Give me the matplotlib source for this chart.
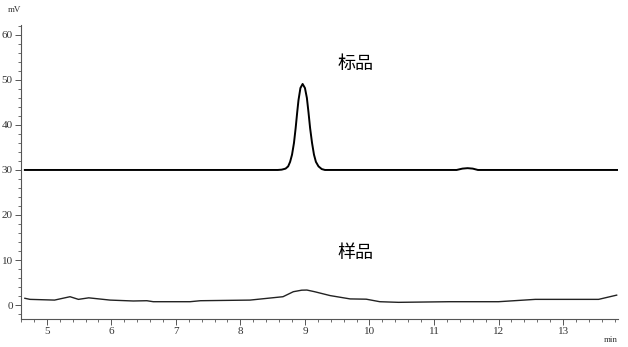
import matplotlib.pyplot as plt
from matplotlib.ticker import MultipleLocator

# 标品 trace (time in min, signal in mV)
std_time = [4.66, 8.58, 8.64, 8.70, 8.74, 8.77, 8.80, 8.83, 8.856, 8.88, 8.90, 8.93,
            8.964, 9.00, 9.03, 9.055, 9.08, 9.11, 9.14, 9.17, 9.21, 9.26, 9.31,
            11.35, 11.44, 11.52, 11.60, 11.68, 13.85]
std_signal = [30.0, 30.0, 30.07, 30.3, 30.8, 31.8, 33.4, 36.0, 39.3, 42.8, 45.5, 48.2,
              49.1, 48.2, 46.0, 42.8, 39.3, 36.0, 33.4, 31.8, 30.8, 30.2, 30.0,
              30.0, 30.3, 30.4, 30.3, 30.0, 30.0]

# 样品 trace
smp_time = [4.66, 4.74, 5.12, 5.36, 5.49, 5.65, 5.98, 6.34, 6.55, 6.65, 7.22, 7.38,
            8.15, 8.66, 8.82, 8.95, 9.03, 9.15, 9.39, 9.70, 9.95, 10.16, 10.45,
            11.24, 12.00, 12.57, 13.55, 13.83]
smp_signal = [1.5, 1.26, 1.1, 1.85, 1.26, 1.6, 1.1, 0.9, 0.96, 0.74, 0.74, 0.96,
              1.1, 1.85, 2.96, 3.3, 3.33, 2.96, 2.1, 1.36, 1.3, 0.74, 0.6,
              0.74, 0.74, 1.26, 1.26, 2.2]

labels = ["标品", "样品"]
label_pos = [(9.78, 53.5), (9.78, 11.6)]

plt.rcParams['font.family'] = ['Liberation Serif', 'Noto Sans CJK SC']

fig = plt.figure(figsize=(6.28, 3.47), dpi=100)
ax = fig.add_axes([0.0334, 0.0807, 0.9506, 0.8473])

ax.plot(std_time, std_signal, color='black', lw=1.4)
ax.plot(smp_time, smp_signal, color='#222222', lw=1.0)

for txt, (x, y) in zip(labels, label_pos):
    ax.text(x, y, txt, fontsize=13, ha='center', va='center',
            family=['Noto Sans CJK SC', 'DejaVu Sans'])

ax.set_xlim(4.6, 13.85)
ax.set_ylim(-3.1, 62.2)
ax.xaxis.set_major_locator(MultipleLocator(1))
ax.xaxis.set_minor_locator(MultipleLocator(0.2))
ax.yaxis.set_major_locator(MultipleLocator(10))
ax.yaxis.set_minor_locator(MultipleLocator(2))

for s in ['top', 'right']:
    ax.spines[s].set_visible(False)
for s in ['left', 'bottom']:
    ax.spines[s].set_color('#555555')
    ax.spines[s].set_linewidth(0.8)

ax.tick_params(which='major', length=4, width=0.7, color='#555555',
               labelsize=8, labelcolor='#333333', pad=2)
ax.tick_params(which='minor', length=2, width=0.6, color='#555555')

fig.text(8 / 628, 1 - 10 / 347, "mV", fontsize=6.5, color='#333333',
         ha='left', va='center')
fig.text(618 / 628, 1 - 340 / 347, "min", fontsize=6.5, color='#333333',
         ha='right', va='center')

fig.savefig("out.png", dpi=100)
